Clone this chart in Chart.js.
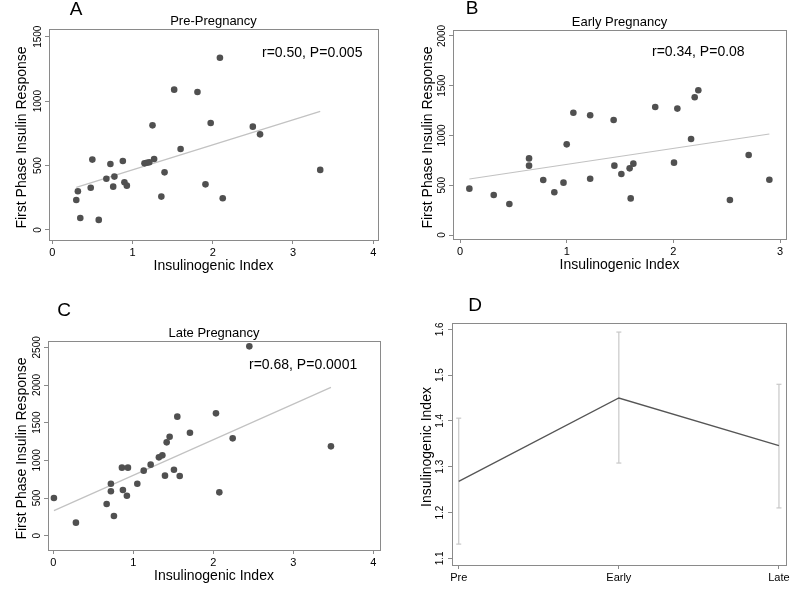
<!DOCTYPE html>
<html>
<head>
<meta charset="utf-8">
<script src="https://cdn.jsdelivr.net/npm/chart.js@4/dist/chart.umd.min.js"></script>
<style>
  body { margin: 0; background: #fff; width: 800px; height: 598px; position: relative; overflow: hidden; }
  canvas { position: absolute; }
</style>
</head>
<body>
<canvas id="chartA" width="400" height="290" style="left:0;top:0"></canvas>
<canvas id="chartB" width="400" height="290" style="left:400px;top:0"></canvas>
<canvas id="chartC" width="400" height="308" style="left:0;top:290px"></canvas>
<canvas id="chartD" width="400" height="308" style="left:400px;top:290px"></canvas>
<script>
// data block
const preX = [0.30, 0.32, 0.35, 0.48, 0.50, 0.58, 0.675, 0.725, 0.76, 0.775, 0.88, 0.90, 0.93, 1.15, 1.18, 1.21, 1.25, 1.27, 1.36, 1.40, 1.52, 1.60, 1.81, 1.91, 1.975, 2.09, 2.125, 2.50, 2.59, 3.34];
const preY = [233, 300, 93, 328, 546, 78, 398, 512, 336, 414, 535, 370, 344, 517, 522, 525, 812, 551, 259, 447, 1089, 628, 1071, 354, 830, 1337, 246, 802, 742, 466];
const preTrendX = [0.30, 3.34];
const preTrendY = [331, 921];

const earlyX = [0.0875, 0.316, 0.4625, 0.647, 0.647, 0.78, 0.884, 0.97, 1.0, 1.0625, 1.22, 1.22, 1.44, 1.447, 1.5125, 1.59, 1.60, 1.625, 1.83, 2.006, 2.0375, 2.166, 2.20, 2.234, 2.53, 2.706, 2.90];
const earlyY = [466, 402, 312, 770, 697, 553, 429, 526, 911, 1229, 1203, 566, 1156, 697, 613, 670, 368, 717, 1286, 727, 1270, 965, 1384, 1454, 352, 804, 556];
const earlyTrendX = [0.0875, 2.90];
const earlyTrendY = [563, 1015];

const lateX = [0.008, 0.283, 0.667, 0.72, 0.72, 0.758, 0.858, 0.87, 0.92, 0.933, 1.05, 1.13, 1.217, 1.32, 1.363, 1.396, 1.417, 1.454, 1.508, 1.55, 1.58, 1.708, 2.033, 2.075, 2.242, 2.45, 3.47];
const lateY = [500, 173, 420, 690, 589, 261, 903, 606, 531, 903, 690, 863, 943, 1040, 1066, 797, 1239, 1314, 876, 1580, 792, 1367, 1624, 575, 1292, 2513, 1186];
const lateTrendX = [0.008, 3.47];
const lateTrendY = [332, 1969];

const stageLabels = ['Pre', 'Early', 'Late'];
const stageMean = [1.268, 1.450, 1.346];
const stageLow = [1.131, 1.308, 1.210];
const stageHigh = [1.406, 1.594, 1.480];

// tick labels
const xTicks4 = [0, 1, 2, 3, 4];
const xTicks3 = [0, 1, 2, 3];
const preYTicks = [0, 500, 1000, 1500];
const earlyYTicks = [0, 500, 1000, 1500, 2000];
const lateYTicks = [0, 500, 1000, 1500, 2000, 2500];
const stageYTicks = [1.1, 1.2, 1.3, 1.4, 1.5, 1.6];

const FONT = '"Liberation Sans", Arial, Helvetica, sans-serif';
const BOX = '#8a8a8a';

// draws frame, rotated y labels, titles, panel letter and annotation
const panelDecor = {
	id: 'panelDecor',
	afterDraw(chart, args, o) {
		const ctx = chart.ctx;
		const a = chart.chartArea;
		const ys = chart.scales.y;
		ctx.save();
		ctx.strokeStyle = BOX;
		ctx.lineWidth = 1;
		ctx.strokeRect(Math.round(a.left) + 0.5, Math.round(a.top) + 0.5, Math.round(a.right - a.left), Math.round(a.bottom - a.top));

		ctx.fillStyle = '#000';
		ctx.textAlign = 'center';
		ctx.textBaseline = 'middle';
		// y tick labels, rotated
		ctx.font = '10px ' + FONT;
		ys.ticks.forEach((t) => {
			const py = ys.getPixelForValue(t.value);
			ctx.save();
			ctx.translate(o.yTickX, py);
			ctx.rotate(-Math.PI / 2);
			ctx.fillText(String(t.value), 0, 0);
			ctx.restore();
		});
		// y title
		ctx.font = '14px ' + FONT;
		ctx.save();
		ctx.translate(o.yTitleX, (a.top + a.bottom) / 2 + 3);
		ctx.rotate(-Math.PI / 2);
		ctx.fillText(o.yTitle, 0, 0);
		ctx.restore();
		// x title
		if (o.xTitle) ctx.fillText(o.xTitle, (a.left + a.right) / 2, a.bottom + 26);
		// subtitle
		ctx.font = '13px ' + FONT;
		if (o.subtitle) ctx.fillText(o.subtitle, (a.left + a.right) / 2, a.top - 7.5);
		// panel letter
		ctx.font = '19px ' + FONT;
		ctx.fillText(o.letter, o.letterX, o.letterY);
		// stats annotation
		if (o.note) {
			ctx.font = '14px ' + FONT;
			ctx.textAlign = 'left';
			ctx.fillText(o.note, o.noteX, o.noteY);
		}
		ctx.restore();
	},
};

function makeAxes(box, h, xr, yr, xTicks, yTicks, xLabel) {
	return {
		x: {
			type: 'linear',
			min: xr[0],
			max: xr[1],
			afterBuildTicks: (s) => { s.ticks = xTicks.map((v) => ({ value: v })); },
			afterFit: (s) => { s.height = h - box.bottom; },
			grid: { display: true, drawOnChartArea: false, drawTicks: true, tickLength: 4, color: BOX },
			border: { display: true, color: BOX },
			ticks: {
				color: '#000',
				font: { family: FONT, size: 11 },
				padding: 2,
				maxRotation: 0,
				callback: xLabel || ((v) => String(v)),
			},
		},
		y: {
			type: 'linear',
			min: yr[0],
			max: yr[1],
			afterBuildTicks: (s) => { s.ticks = yTicks.map((v) => ({ value: v })); },
			afterFit: (s) => { s.width = box.left; },
			grid: { display: true, drawOnChartArea: false, drawTicks: true, tickLength: 4, color: BOX },
			border: { display: true, color: BOX },
			ticks: { display: false },
		},
	};
}

function scatterPanel(id, box, h, xs, ys, tx, ty, xr, yr, xTicks, yTicks, decor) {
	return new Chart(document.getElementById(id), {
		type: 'scatter',
		data: {
			datasets: [
				{
					data: xs.map((x, i) => ({ x: x, y: ys[i] })),
					backgroundColor: '#505050',
					borderWidth: 0,
					pointRadius: 3.3,
					order: 0,
				},
				{
					type: 'line',
					data: tx.map((x, i) => ({ x: x, y: ty[i] })),
					borderColor: '#c2c2c2',
					borderWidth: 1.2,
					pointRadius: 0,
					fill: false,
					order: 1,
				},
			],
		},
		options: {
			responsive: false,
			animation: false,
			layout: { padding: { top: box.top, right: 400 - box.right, left: 0, bottom: 0 } },
			scales: makeAxes(box, h, xr, yr, xTicks, yTicks),
			plugins: { legend: { display: false }, tooltip: { enabled: false }, panelDecor: decor },
		},
		plugins: [panelDecor],
	});
}

// render block
scatterPanel('chartA', { left: 49, top: 29, right: 378, bottom: 240 }, 290,
	preX, preY, preTrendX, preTrendY, [-0.04, 4.06], [-78, 1560], xTicks4, preYTicks,
	{ letter: 'A', letterX: 76, letterY: 10, subtitle: 'Pre-Pregnancy', note: 'r=0.50, P=0.005', noteX: 262, noteY: 53,
		yTitle: 'First Phase Insulin Response', yTitleX: 22, yTickX: 38, xTitle: 'Insulinogenic Index' });

scatterPanel('chartB', { left: 53, top: 30, right: 386, bottom: 239 }, 290,
	earlyX, earlyY, earlyTrendX, earlyTrendY, [-0.066, 3.056], [-40, 2060], xTicks3, earlyYTicks,
	{ letter: 'B', letterX: 72, letterY: 9, subtitle: 'Early Pregnancy', note: 'r=0.34, P=0.08', noteX: 252, noteY: 52,
		yTitle: 'First Phase Insulin Response', yTitleX: 28, yTickX: 42, xTitle: 'Insulinogenic Index' });

scatterPanel('chartC', { left: 48, top: 51, right: 380, bottom: 260 }, 308,
	lateX, lateY, lateTrendX, lateTrendY, [-0.066, 4.083], [-190, 2584], xTicks4, lateYTicks,
	{ letter: 'C', letterX: 64, letterY: 21, subtitle: 'Late Pregnancy', note: 'r=0.68, P=0.0001', noteX: 249, noteY: 75,
		yTitle: 'First Phase Insulin Response', yTitleX: 22, yTickX: 37, xTitle: 'Insulinogenic Index' });

// panel D: mean with error bars
const boxD = { left: 52, top: 33, right: 386, bottom: 275 };
const errorSets = stageLabels.map((s, i) => ({
	type: 'line',
	data: [{ x: i, y: stageLow[i] }, { x: i, y: stageHigh[i] }],
	borderColor: '#c8c8c8',
	borderWidth: 1.2,
	pointStyle: 'line',
	pointRadius: 2.5,
	pointBorderColor: '#c8c8c8',
	pointBorderWidth: 1.2,
	order: 1,
}));
new Chart(document.getElementById('chartD'), {
	type: 'line',
	data: {
		datasets: [
			{
				data: stageMean.map((m, i) => ({ x: i, y: m })),
				borderColor: '#555',
				borderWidth: 1.3,
				pointRadius: 0,
				tension: 0,
				order: 0,
			},
		].concat(errorSets),
	},
	options: {
		responsive: false,
		animation: false,
		layout: { padding: { top: boxD.top, right: 400 - boxD.right, left: 0, bottom: 0 } },
		scales: makeAxes(boxD, 308, [-0.042, 2.044], [1.0854, 1.6138], [0, 1, 2], stageYTicks, (v) => stageLabels[v]),
		plugins: {
			legend: { display: false },
			tooltip: { enabled: false },
			panelDecor: { letter: 'D', letterX: 75, letterY: 16, yTitle: 'Insulinogenic Index', yTitleX: 27, yTickX: 40 },
		},
	},
	plugins: [panelDecor],
});
</script>
</body>
</html>
